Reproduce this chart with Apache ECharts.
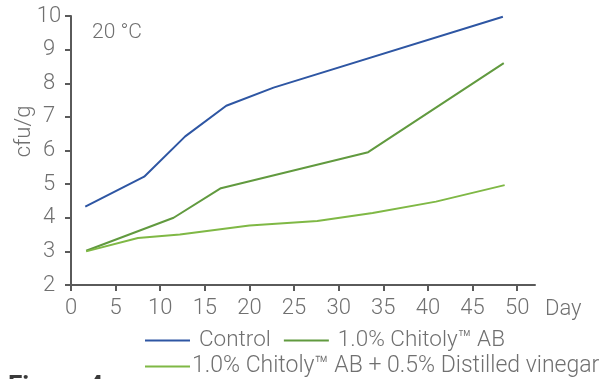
<!DOCTYPE html>
<html>
<head>
<meta charset="utf-8">
<script src="https://cdn.jsdelivr.net/npm/echarts@6/dist/echarts.min.js"></script>
<style>
html,body{margin:0;padding:0;background:#fff;}
#c{width:602px;height:379px;}
</style>
</head>
<body>
<div id="c"></div>
<script>
// Data
const seriesNames = ['Control', '1.0% Chitoly™ AB', '1.0% Chitoly™ AB + 0.5% Distilled vinegar'];
const controlDays = [1.6, 8.2, 12.8, 17.4, 22.7, 48.4];
const controlCfu  = [4.33, 5.22, 6.42, 7.33, 7.87, 9.98];
const chitolyDays = [1.7, 11.5, 16.8, 33.3, 48.5];
const chitolyCfu  = [3.02, 4.0, 4.88, 5.95, 8.6];
const vinegarDays = [1.7, 7.5, 12.2, 20, 27.6, 33.8, 40.9, 48.6];
const vinegarCfu  = [3.0, 3.4, 3.5, 3.77, 3.9, 4.14, 4.48, 4.97];
const xTicks = [0, 5, 10, 15, 20, 25, 30, 35, 40, 45, 50];
const yTicks = [2, 3, 4, 5, 6, 7, 8, 9, 10];

const pairs = (xs, ys) => xs.map((x, i) => [x, ys[i]]);
const colors = ['#2e56a3', '#619a3f', '#7fb845'];
const FONT = 'Roboto';
const TXT = '#707070';
const AX = '#5a5a5a';

const chart = echarts.init(document.getElementById('c'), null, {renderer: 'canvas'});
chart.setOption({
  animation: false,
  backgroundColor: '#fff',
  grid: {left: 71, right: 67, top: 16, bottom: 94, containLabel: false},
  xAxis: {
    type: 'value', min: 0, max: 52,
    name: 'Day', nameLocation: 'end', nameGap: 10, nameMoveOverlap: false,
    nameTextStyle: {color: TXT, fontFamily: FONT, fontWeight: 300, fontSize: 22, verticalAlign: 'top', align: 'left', padding: [13, 0, 0, 0]},
    axisLine: {show: true, lineStyle: {color: AX, width: 2}},
    axisTick: {show: true, customValues: xTicks, length: 6, lineStyle: {color: AX, width: 2}},
    axisLabel: {customValues: xTicks, color: TXT, fontFamily: FONT, fontWeight: 300, fontSize: 22, margin: 12},
    splitLine: {show: false}
  },
  yAxis: {
    type: 'value', min: 2, max: 10, interval: 1,
    name: 'cfu/g', nameLocation: 'middle', nameGap: 36, nameRotate: 90, nameMoveOverlap: false,
    nameTextStyle: {color: TXT, fontFamily: FONT, fontWeight: 300, fontSize: 22, padding: [0, 0, 0, 38]},
    axisLine: {show: true, lineStyle: {color: AX, width: 2}},
    axisTick: {show: true, length: 6, lineStyle: {color: AX, width: 2}},
    axisLabel: {color: TXT, fontFamily: FONT, fontWeight: 300, fontSize: 22, align: 'center', margin: 22,
      customValues: yTicks},
    splitLine: {show: false}
  },
  legend: [
    {
      data: [seriesNames[0], seriesNames[1]],
      left: 140, top: 324, itemWidth: 45, itemHeight: 2, itemGap: 13,
      icon: 'rect',
      textStyle: {color: TXT, fontFamily: FONT, fontWeight: 300, fontSize: 22.5, padding: [0, 0, 0, 4]}
    },
    {
      data: [seriesNames[2]],
      left: 140, top: 350, itemWidth: 45, itemHeight: 2,
      icon: 'rect',
      textStyle: {color: TXT, fontFamily: FONT, fontWeight: 300, fontSize: 23, padding: [0, 0, 0, -3]}
    }
  ],
  series: [
    {name: seriesNames[0], type: 'line', data: pairs(controlDays, controlCfu), symbol: 'none', lineStyle: {width: 2, color: colors[0]}, itemStyle: {color: colors[0]}},
    {name: seriesNames[1], type: 'line', data: pairs(chitolyDays, chitolyCfu), symbol: 'none', lineStyle: {width: 2, color: colors[1]}, itemStyle: {color: colors[1]}},
    {name: seriesNames[2], type: 'line', data: pairs(vinegarDays, vinegarCfu), symbol: 'none', lineStyle: {width: 2, color: colors[2]}, itemStyle: {color: colors[2]}}
  ],
  graphic: [
    {type: 'text', left: 92, top: 22, style: {text: '20 °C', fill: TXT, font: '300 21px Roboto'}},
    {type: 'text', left: 8, top: 374, style: {text: 'Figure 4', fill: '#3a3a3a', font: 'bold 26px Roboto'}}
  ]
});
</script>
</body>
</html>
